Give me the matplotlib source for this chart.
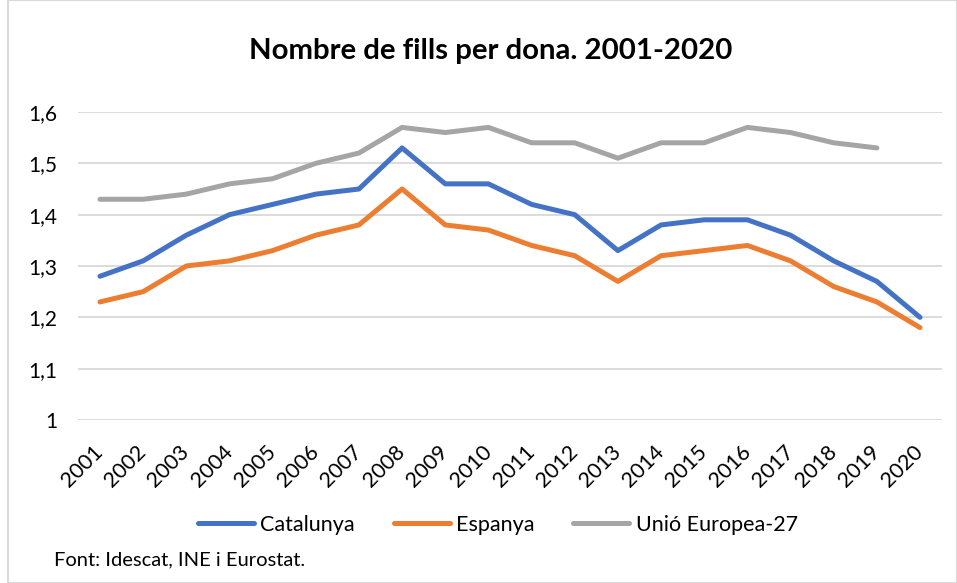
import numpy as np
import matplotlib
matplotlib.use('Agg')
import matplotlib.pyplot as plt
from matplotlib.patches import Rectangle

plt.rcParams['font.family'] = ['Lato', 'DejaVu Sans']

# Data
years = ['2001', '2002', '2003', '2004', '2005', '2006', '2007', '2008', '2009', '2010',
         '2011', '2012', '2013', '2014', '2015', '2016', '2017', '2018', '2019', '2020']
catalunya = [1.28, 1.31, 1.36, 1.40, 1.42, 1.44, 1.45, 1.53, 1.46, 1.46,
             1.42, 1.40, 1.33, 1.38, 1.39, 1.39, 1.36, 1.31, 1.27, 1.20]
espanya = [1.23, 1.25, 1.30, 1.31, 1.33, 1.36, 1.38, 1.45, 1.38, 1.37,
           1.34, 1.32, 1.27, 1.32, 1.33, 1.34, 1.31, 1.26, 1.23, 1.18]
ue27 = [1.43, 1.43, 1.44, 1.46, 1.47, 1.50, 1.52, 1.57, 1.56, 1.57,
        1.54, 1.54, 1.51, 1.54, 1.54, 1.57, 1.56, 1.54, 1.53, np.nan]
y_ticks = [1.0, 1.1, 1.2, 1.3, 1.4, 1.5, 1.6]
y_labels = ['1', '1,1', '1,2', '1,3', '1,4', '1,5', '1,6']

W, H = 957, 583
fig = plt.figure(figsize=(W / 100, H / 100), dpi=100)
ax = fig.add_axes([78.4 / W, 1 - 420 / H, (941.6 - 78.4) / W, (420 - 112) / H])

x = np.arange(len(years))
ax.plot(x, catalunya, color='#4472C4', lw=3.6, label='Catalunya', solid_capstyle='round')
ax.plot(x, espanya, color='#ED7D31', lw=3.6, label='Espanya', solid_capstyle='round')
ax.plot(x, ue27, color='#A5A5A5', lw=3.6, label='Unió Europea-27', solid_capstyle='round')

ax.set_xlim(-0.5, len(years) - 0.5)
ax.set_ylim(1.0, 1.6)
ax.set_yticks(y_ticks)
ax.set_yticklabels(y_labels, fontsize=15)
ax.set_xticks(x)
ax.set_xticklabels(years, rotation=45, ha='right', va='center', rotation_mode='anchor', fontsize=15.5)
ax.tick_params(length=0)
ax.tick_params(axis='y', pad=15)
ax.tick_params(axis='x', pad=21)
ax.grid(axis='y', color='#D9D9D9', lw=1.3)
ax.set_axisbelow(True)
for s in ax.spines.values():
    s.set_visible(False)

fig.text(491 / W, 1 - 51 / H, 'Nombre de fills per dona. 2001-2020', ha='center', va='center',
         fontsize=21.2, fontweight='bold')

handles, labels = ax.get_legend_handles_labels()
fig.legend(handles, labels, loc='center', bbox_to_anchor=(498 / W, 1 - 525 / H), ncol=3,
           frameon=False, fontsize=15.5, handlelength=2.6, handletextpad=0.3, columnspacing=1.8)

fig.text(54 / W, 1 - 560 / H, 'Font: Idescat, INE i Eurostat.', ha='left', va='center', fontsize=14.5)

# chart frame
fig.patches.append(Rectangle((8 / W, 0), 1 - 8 / W, 1, transform=fig.transFigure,
                             fill=False, edgecolor='#D9D9D9', lw=1.5))

fig.savefig('out.png', dpi=100)
